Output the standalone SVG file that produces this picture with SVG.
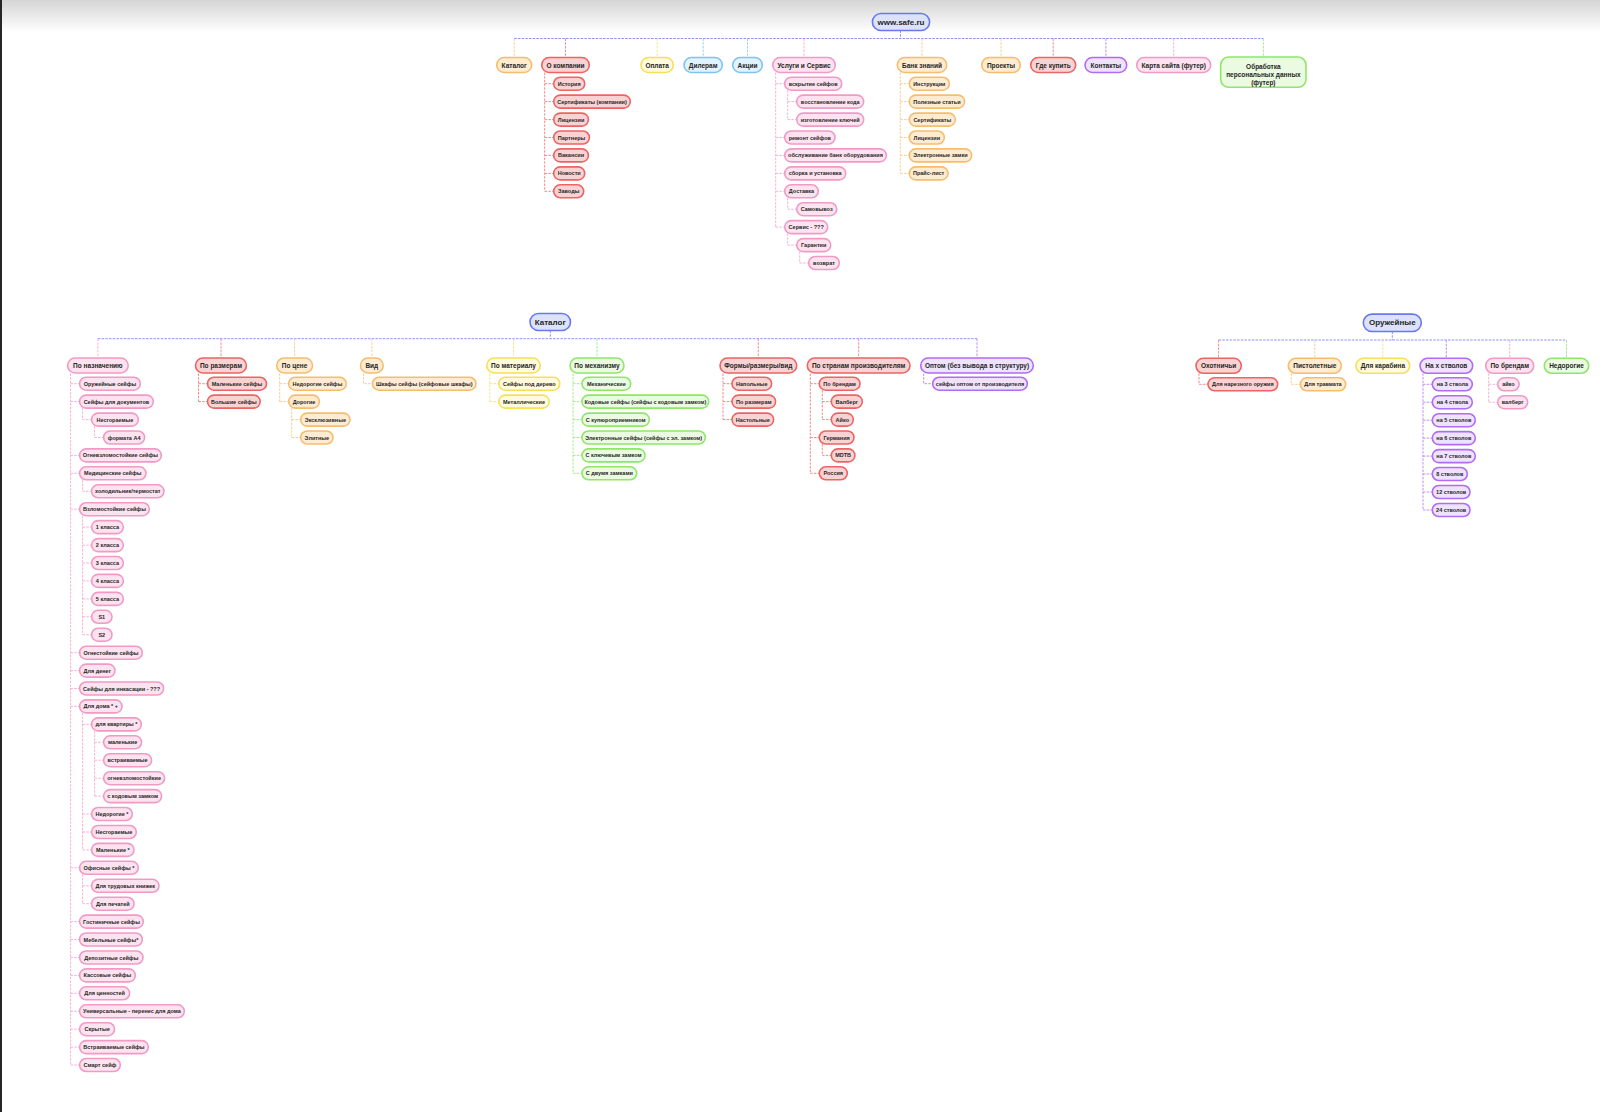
<svg xmlns="http://www.w3.org/2000/svg" width="1600" height="1112" viewBox="0 0 1600 1112">
<defs>
<linearGradient id="topg" x1="0" y1="0" x2="0" y2="1"><stop offset="0" stop-color="#d5d5d5"/><stop offset="1" stop-color="#ffffff"/></linearGradient>
<style>
.n text{font-family:"Liberation Sans",Arial,sans-serif;font-weight:700;fill:#262626;text-anchor:middle;dominant-baseline:central}
.n rect{stroke-width:1.6}
.s text{font-size:5.5px}
.m text{font-size:6.5px}
.l text{font-size:8px}
.blue rect{fill:#dde2fb;stroke:#6a78ee}
.red rect{fill:#f9d3d3;stroke:#ec6464}
.orange rect{fill:#fdebd2;stroke:#f6bd6f}
.yellow rect{fill:#fffbdc;stroke:#f5e05a}
.lblue rect{fill:#e3f2fd;stroke:#7dc4f4}
.pink rect{fill:#fce3ef;stroke:#f29ac6}
.purple rect{fill:#efe2fc;stroke:#b06cf2}
.green rect{fill:#ebfbe2;stroke:#8fe668}
.c path{fill:none;stroke-width:0.9;stroke-dasharray:2.5 1.2}
.c .blue{stroke:#7b88f0}
.c .red{stroke:#ee7f7f}
.c .orange{stroke:#f7c888}
.c .yellow{stroke:#f3e27a}
.c .lblue{stroke:#8ccbf5}
.c .pink{stroke:#f4a9cf}
.c .purple{stroke:#ba80f3}
.c .green{stroke:#9ee87c}
</style>
</defs>
<rect x="0" y="0" width="1600" height="1112" fill="#ffffff"/>
<rect x="0" y="0" width="1600" height="32" fill="url(#topg)"/>
<rect x="0" y="0" width="2" height="1112" fill="#262626"/>

<g id="connectors" class="c">
<path class="blue" d="M900.5,30.5V38.5M514.2,38.5H1263.4"/>
<path class="orange" d="M514.2,38.5V57.5M922,38.5V57.5M1001,38.5V57.5"/>
<path class="red" d="M565.5,38.5V57.5M1053.2,38.5V57.5"/>
<path class="yellow" d="M657.2,38.5V57.5"/>
<path class="lblue" d="M703.2,38.5V57.5M747.5,38.5V57.5"/>
<path class="pink" d="M804,38.5V57.5M1173.7,38.5V57.5"/>
<path class="purple" d="M1105.9,38.5V57.5"/>
<path class="green" d="M1263.4,38.5V57"/>
<path class="red" d="M544.7,72.5V191.3M544.7,83.7H553.7M544.7,101.6H553.7M544.7,119.6H553.7M544.7,137.5H553.7M544.7,155.4H553.7M544.7,173.4H553.7M544.7,191.3H553.7"/>
<path class="pink" d="M775.7,72.5V227.1M775.7,83.7H784.7M775.7,137.5H784.7M775.7,155.4H784.7M775.7,173.4H784.7M775.7,191.3H784.7M775.7,227.1H784.7M787.7,90.2V119.6M787.7,101.6H796.7M787.7,119.6H796.7M787.7,197.8V209.2H796.7M787.7,233.6V245.1H796.7M799.7,251.6V263H808.7"/>
<path class="orange" d="M900.3,72.5V173.4M900.3,83.7H909.3M900.3,101.6H909.3M900.3,119.6H909.3M900.3,137.5H909.3M900.3,155.4H909.3M900.3,173.4H909.3"/>

<path class="blue" d="M550.3,330.5V338.7M97.9,338.7H977"/>
<path class="pink" d="M97.9,338.7V358"/>
<path class="red" d="M221,338.7V358M758.3,338.7V358M858.7,338.7V358"/>
<path class="orange" d="M294.6,338.7V358M371.9,338.7V358"/>
<path class="yellow" d="M513.5,338.7V358"/>
<path class="green" d="M597,338.7V358"/>
<path class="purple" d="M977,338.7V358"/>
<path class="pink" d="M70.6,373.5V1065M70.6,383.7H79.6M70.6,401.6H79.6M70.6,455.4H79.6M70.6,473.3H79.6M70.6,509.2H79.6M70.6,652.7H79.6M70.6,670.6H79.6M70.6,688.5H79.6M70.6,706.4H79.6M70.6,867.8H79.6M70.6,921.6H79.6M70.6,939.5H79.6M70.6,957.5H79.6M70.6,975.4H79.6M70.6,993.3H79.6M70.6,1011.3H79.6M70.6,1029.2H79.6M70.6,1047.1H79.6M70.6,1065H79.6M82.6,408.1V419.6H91.6M94.6,426.1V437.5H103.6M82.6,479.8V491.3H91.6M82.6,515.7V634.7M82.6,527.1H91.6M82.6,545.1H91.6M82.6,563H91.6M82.6,580.9H91.6M82.6,598.9H91.6M82.6,616.8H91.6M82.6,634.7H91.6M82.6,712.9V849.9M82.6,724.4H91.6M82.6,814H91.6M82.6,832H91.6M82.6,849.9H91.6M94.6,730.9V796.1M94.6,742.3H103.6M94.6,760.2H103.6M94.6,778.2H103.6M94.6,796.1H103.6M82.6,874.3V903.7M82.6,885.8H91.6M82.6,903.7H91.6"/>
<path class="red" d="M198.5,373.5V401.6M198.5,383.7H207.5M198.5,401.6H207.5"/>
<path class="orange" d="M279.7,373.5V401.6M279.7,383.7H288.7M279.7,401.6H288.7M291.7,408.1V437.5M291.7,419.6H300.7M291.7,437.5H300.7M363.5,373.5V383.7H372.5"/>
<path class="yellow" d="M489.8,373.5V401.6M489.8,383.7H498.8M489.8,401.6H498.8"/>
<path class="green" d="M573,373.5V473.3M573,383.7H582M573,401.6H582M573,419.6H582M573,437.5H582M573,455.4H582M573,473.3H582"/>
<path class="red" d="M723,373.5V419.6M723,383.7H732M723,401.6H732M723,419.6H732M810.3,373.5V473.3M810.3,383.7H819.3M810.3,437.5H819.3M810.3,473.3H819.3M822.3,390.2V419.6M822.3,401.6H831.3M822.3,419.6H831.3M822.3,444V455.4H831.3"/>
<path class="purple" d="M923.7,373.5V383.7H932.7"/>

<path class="blue" d="M1392.3,331.5V340M1218.6,340H1566.5"/>
<path class="red" d="M1218.6,340V358.3M1199,373.3V384.3H1208"/>
<path class="orange" d="M1314.8,340V358.3M1291.3,373.3V384.3H1300.3"/>
<path class="yellow" d="M1382.8,340V358.3"/>
<path class="purple" d="M1446.3,340V358.3M1423,373.3V510M1423,384.3H1432.3M1423,402.2H1432.3M1423,420.2H1432.3M1423,438.1H1432.3M1423,456.1H1432.3M1423,474H1432.3M1423,492H1432.3M1423,510H1432.3"/>
<path class="pink" d="M1509.7,340V358.3M1488.7,373.3V402.2M1488.7,384.3H1497.7M1488.7,402.2H1497.7"/>
<path class="green" d="M1566.5,340V358.3"/>
</g>

<!-- site tree -->
<g id="n-root" class="n l blue" transform="translate(872.4,22)"><rect y="-8.5" width="57.2" height="17" rx="8.5"/><text x="28.6">www.safe.ru</text></g>
<g id="n-katalog" class="n m orange" transform="translate(496.7,65)"><rect y="-7.5" width="35" height="15" rx="7.5"/><text x="17.5">Каталог</text></g>
<g id="n-okompanii" class="n m red" transform="translate(541.7,65)"><rect y="-7.5" width="47.6" height="15" rx="7.5"/><text x="23.8">О компании</text></g>
<g id="n-oplata" class="n m yellow" transform="translate(641,65)"><rect y="-7.5" width="32.3" height="15" rx="7.5"/><text x="16.15">Оплата</text></g>
<g id="n-dileram" class="n m lblue" transform="translate(684,65)"><rect y="-7.5" width="38.3" height="15" rx="7.5"/><text x="19.15">Дилерам</text></g>
<g id="n-akcii" class="n m lblue" transform="translate(732.7,65)"><rect y="-7.5" width="29.6" height="15" rx="7.5"/><text x="14.8">Акции</text></g>
<g id="n-uslugi" class="n m pink" transform="translate(772.7,65)"><rect y="-7.5" width="62.6" height="15" rx="7.5"/><text x="31.3">Услуги и Сервис</text></g>
<g id="n-bank" class="n m orange" transform="translate(897.3,65)"><rect y="-7.5" width="49.4" height="15" rx="7.5"/><text x="24.7">Банк знаний</text></g>
<g id="n-proekty" class="n m orange" transform="translate(981.7,65)"><rect y="-7.5" width="38.6" height="15" rx="7.5"/><text x="19.3">Проекты</text></g>
<g id="n-gde" class="n m red" transform="translate(1030.7,65)"><rect y="-7.5" width="45" height="15" rx="7.5"/><text x="22.5">Где купить</text></g>
<g id="n-kontakty" class="n m purple" transform="translate(1085,65)"><rect y="-7.5" width="41.7" height="15" rx="7.5"/><text x="20.85">Контакты</text></g>
<g id="n-karta" class="n m pink" transform="translate(1136.7,65)"><rect y="-7.5" width="74" height="15" rx="7.5"/><text x="37">Карта сайта (футер)</text></g>
<g id="n-obrabotka" class="n m green" transform="translate(1220.7,72)"><rect y="-15" width="85.3" height="30.3" rx="8"/><text x="42.65"><tspan x="42.65" y="-6.3">Обработка</tspan><tspan x="42.65" y="2">персональных данных</tspan><tspan x="42.65" y="10.3">(футер)</tspan></text></g>

<g id="n-istoriya" class="n s red" transform="translate(553.7,83.7)"><rect y="-6.5" width="31" height="13" rx="6.5"/><text x="15.5">История</text></g>
<g id="n-sert-komp" class="n s red" transform="translate(553.7,101.6)"><rect y="-6.5" width="76.6" height="13" rx="6.5"/><text x="38.3">Сертификаты (компании)</text></g>
<g id="n-licenzii" class="n s red" transform="translate(553.7,119.6)"><rect y="-6.5" width="34.7" height="13" rx="6.5"/><text x="17.35">Лицензии</text></g>
<g id="n-partnery" class="n s red" transform="translate(553.7,137.5)"><rect y="-6.5" width="35.7" height="13" rx="6.5"/><text x="17.85">Партнеры</text></g>
<g id="n-vakansii" class="n s red" transform="translate(553.7,155.4)"><rect y="-6.5" width="34.7" height="13" rx="6.5"/><text x="17.35">Вакансии</text></g>
<g id="n-novosti" class="n s red" transform="translate(553.7,173.4)"><rect y="-6.5" width="31" height="13" rx="6.5"/><text x="15.5">Новости</text></g>
<g id="n-zavody" class="n s red" transform="translate(553.7,191.3)"><rect y="-6.5" width="30" height="13" rx="6.5"/><text x="15">Заводы</text></g>

<g id="n-vskrytie" class="n s pink" transform="translate(784.7,83.7)"><rect y="-6.5" width="57" height="13" rx="6.5"/><text x="28.5">вскрытие сейфов</text></g>
<g id="n-vosst" class="n s pink" transform="translate(796.7,101.6)"><rect y="-6.5" width="67" height="13" rx="6.5"/><text x="33.5">восстановление кода</text></g>
<g id="n-izgot" class="n s pink" transform="translate(796.7,119.6)"><rect y="-6.5" width="67" height="13" rx="6.5"/><text x="33.5">изготовление ключей</text></g>
<g id="n-remont" class="n s pink" transform="translate(784.7,137.5)"><rect y="-6.5" width="50.3" height="13" rx="6.5"/><text x="25.15">ремонт сейфов</text></g>
<g id="n-obsl" class="n s pink" transform="translate(784.7,155.4)"><rect y="-6.5" width="101.6" height="13" rx="6.5"/><text x="50.8">обслуживание банк оборудования</text></g>
<g id="n-sborka" class="n s pink" transform="translate(784.7,173.4)"><rect y="-6.5" width="61" height="13" rx="6.5"/><text x="30.5">сборка и установка</text></g>
<g id="n-dostavka" class="n s pink" transform="translate(784.7,191.3)"><rect y="-6.5" width="33.6" height="13" rx="6.5"/><text x="16.8">Доставка</text></g>
<g id="n-samovyvoz" class="n s pink" transform="translate(796.7,209.2)"><rect y="-6.5" width="40" height="13" rx="6.5"/><text x="20">Самовывоз</text></g>
<g id="n-servis" class="n s pink" transform="translate(784.7,227.1)"><rect y="-6.5" width="43" height="13" rx="6.5"/><text x="21.5">Сервис - ???</text></g>
<g id="n-garantii" class="n s pink" transform="translate(796.7,245.1)"><rect y="-6.5" width="34" height="13" rx="6.5"/><text x="17">Гарантии</text></g>
<g id="n-vozvrat" class="n s pink" transform="translate(808.7,263)"><rect y="-6.5" width="30.6" height="13" rx="6.5"/><text x="15.3">возврат</text></g>

<g id="n-instr" class="n s orange" transform="translate(909.3,83.7)"><rect y="-6.5" width="40" height="13" rx="6.5"/><text x="20">Инструкции</text></g>
<g id="n-polez" class="n s orange" transform="translate(909.3,101.6)"><rect y="-6.5" width="55.3" height="13" rx="6.5"/><text x="27.65">Полезные статьи</text></g>
<g id="n-sert" class="n s orange" transform="translate(909.3,119.6)"><rect y="-6.5" width="46" height="13" rx="6.5"/><text x="23">Сертификаты</text></g>
<g id="n-lic2" class="n s orange" transform="translate(909.3,137.5)"><rect y="-6.5" width="35" height="13" rx="6.5"/><text x="17.5">Лицензии</text></g>
<g id="n-elzamki" class="n s orange" transform="translate(909.3,155.4)"><rect y="-6.5" width="62.3" height="13" rx="6.5"/><text x="31.15">Электронные замки</text></g>
<g id="n-prais" class="n s orange" transform="translate(909.3,173.4)"><rect y="-6.5" width="38.7" height="13" rx="6.5"/><text x="19.35">Прайс-лист</text></g>

<!-- catalog tree -->
<g id="n-cat-root" class="n l blue" transform="translate(530,322)"><rect y="-8.5" width="40.5" height="17" rx="8.5"/><text x="20.25">Каталог</text></g>
<g id="n-naznach" class="n m pink" transform="translate(67.6,365.5)"><rect y="-7.5" width="60.6" height="15" rx="7.5"/><text x="30.3">По назначению</text></g>
<g id="n-razmer" class="n m red" transform="translate(195.5,365.5)"><rect y="-7.5" width="50.9" height="15" rx="7.5"/><text x="25.45">По размерам</text></g>
<g id="n-cena" class="n m orange" transform="translate(276.7,365.5)"><rect y="-7.5" width="35.8" height="15" rx="7.5"/><text x="17.9">По цене</text></g>
<g id="n-vid" class="n m orange" transform="translate(360.5,365.5)"><rect y="-7.5" width="22.7" height="15" rx="7.5"/><text x="11.35">Вид</text></g>
<g id="n-material" class="n m yellow" transform="translate(486.8,365.5)"><rect y="-7.5" width="53.4" height="15" rx="7.5"/><text x="26.7">По материалу</text></g>
<g id="n-mehanizm" class="n m green" transform="translate(570,365.5)"><rect y="-7.5" width="54" height="15" rx="7.5"/><text x="27">По механизму</text></g>
<g id="n-formy" class="n m red" transform="translate(720,365.5)"><rect y="-7.5" width="76.7" height="15" rx="7.5"/><text x="38.35">Формы/размеры/вид</text></g>
<g id="n-strany" class="n m red" transform="translate(807.3,365.5)"><rect y="-7.5" width="102.7" height="15" rx="7.5"/><text x="51.35">По странам производителям</text></g>
<g id="n-optom" class="n m purple" transform="translate(920.7,365.5)"><rect y="-7.5" width="112.6" height="15" rx="7.5"/><text x="56.3">Оптом (без вывода в структуру)</text></g>

<g id="n-c1" class="n s pink" transform="translate(79.6,383.7)"><rect y="-6.5" width="60.7" height="13" rx="6.5"/><text x="30.35">Оружейные сейфы</text></g>
<g id="n-c2" class="n s pink" transform="translate(79.6,401.6)"><rect y="-6.5" width="73.7" height="13" rx="6.5"/><text x="36.85">Сейфы для документов</text></g>
<g id="n-c3" class="n s pink" transform="translate(91.6,419.6)"><rect y="-6.5" width="46.7" height="13" rx="6.5"/><text x="23.35">Несгораемые</text></g>
<g id="n-c4" class="n s pink" transform="translate(103.6,437.5)"><rect y="-6.5" width="41" height="13" rx="6.5"/><text x="20.5">формата А4</text></g>
<g id="n-c5" class="n s pink" transform="translate(79.6,455.4)"><rect y="-6.5" width="81.7" height="13" rx="6.5"/><text x="40.85">Огневзломостойкие сейфы</text></g>
<g id="n-c6" class="n s pink" transform="translate(79.6,473.3)"><rect y="-6.5" width="66.4" height="13" rx="6.5"/><text x="33.2">Медицинские сейфы</text></g>
<g id="n-c7" class="n s pink" transform="translate(91.6,491.3)"><rect y="-6.5" width="72.4" height="13" rx="6.5"/><text x="36.2">холодильник/термостат</text></g>
<g id="n-c8" class="n s pink" transform="translate(79.6,509.2)"><rect y="-6.5" width="69.7" height="13" rx="6.5"/><text x="34.85">Взломостойкие сейфы</text></g>
<g id="n-c9" class="n s pink" transform="translate(91.6,527.1)"><rect y="-6.5" width="31.7" height="13" rx="6.5"/><text x="15.85">1 класса</text></g>
<g id="n-c10" class="n s pink" transform="translate(91.6,545.1)"><rect y="-6.5" width="31.7" height="13" rx="6.5"/><text x="15.85">2 класса</text></g>
<g id="n-c11" class="n s pink" transform="translate(91.6,563)"><rect y="-6.5" width="31.7" height="13" rx="6.5"/><text x="15.85">3 класса</text></g>
<g id="n-c12" class="n s pink" transform="translate(91.6,580.9)"><rect y="-6.5" width="31.7" height="13" rx="6.5"/><text x="15.85">4 класса</text></g>
<g id="n-c13" class="n s pink" transform="translate(91.6,598.9)"><rect y="-6.5" width="31.7" height="13" rx="6.5"/><text x="15.85">5 класса</text></g>
<g id="n-c14" class="n s pink" transform="translate(91.6,616.8)"><rect y="-6.5" width="20.4" height="13" rx="6.5"/><text x="10.2">S1</text></g>
<g id="n-c15" class="n s pink" transform="translate(91.6,634.7)"><rect y="-6.5" width="20.4" height="13" rx="6.5"/><text x="10.2">S2</text></g>
<g id="n-c16" class="n s pink" transform="translate(79.6,652.7)"><rect y="-6.5" width="62.7" height="13" rx="6.5"/><text x="31.35">Огнестойкие сейфы</text></g>
<g id="n-c17" class="n s pink" transform="translate(79.6,670.6)"><rect y="-6.5" width="35.4" height="13" rx="6.5"/><text x="17.7">Для денег</text></g>
<g id="n-c18" class="n s pink" transform="translate(79.6,688.5)"><rect y="-6.5" width="84" height="13" rx="6.5"/><text x="42">Сейфы для инкасации - ???</text></g>
<g id="n-c19" class="n s pink" transform="translate(79.6,706.4)"><rect y="-6.5" width="42.4" height="13" rx="6.5"/><text x="21.2">Для дома * +</text></g>
<g id="n-c20" class="n s pink" transform="translate(91.6,724.4)"><rect y="-6.5" width="49.7" height="13" rx="6.5"/><text x="24.85">для квартиры *</text></g>
<g id="n-c21" class="n s pink" transform="translate(103.6,742.3)"><rect y="-6.5" width="38" height="13" rx="6.5"/><text x="19">маленькие</text></g>
<g id="n-c22" class="n s pink" transform="translate(103.6,760.2)"><rect y="-6.5" width="48" height="13" rx="6.5"/><text x="24">встраиваемые</text></g>
<g id="n-c23" class="n s pink" transform="translate(103.6,778.2)"><rect y="-6.5" width="61" height="13" rx="6.5"/><text x="30.5">огневзломостойкие</text></g>
<g id="n-c24" class="n s pink" transform="translate(103.6,796.1)"><rect y="-6.5" width="58" height="13" rx="6.5"/><text x="29">с кодовым замком</text></g>
<g id="n-c25" class="n s pink" transform="translate(91.6,814)"><rect y="-6.5" width="40.7" height="13" rx="6.5"/><text x="20.35">Недорогие *</text></g>
<g id="n-c26" class="n s pink" transform="translate(91.6,832)"><rect y="-6.5" width="44.7" height="13" rx="6.5"/><text x="22.35">Несгораемые</text></g>
<g id="n-c27" class="n s pink" transform="translate(91.6,849.9)"><rect y="-6.5" width="42.4" height="13" rx="6.5"/><text x="21.2">Маленькие *</text></g>
<g id="n-c28" class="n s pink" transform="translate(79.6,867.8)"><rect y="-6.5" width="58.7" height="13" rx="6.5"/><text x="29.35">Офисные сейфы *</text></g>
<g id="n-c29" class="n s pink" transform="translate(91.6,885.8)"><rect y="-6.5" width="67.4" height="13" rx="6.5"/><text x="33.7">Для трудовых книжек</text></g>
<g id="n-c30" class="n s pink" transform="translate(91.6,903.7)"><rect y="-6.5" width="42.4" height="13" rx="6.5"/><text x="21.2">Для печатей</text></g>
<g id="n-c31" class="n s pink" transform="translate(79.6,921.6)"><rect y="-6.5" width="63.7" height="13" rx="6.5"/><text x="31.85">Гостиничные сейфы</text></g>
<g id="n-c32" class="n s pink" transform="translate(79.6,939.5)"><rect y="-6.5" width="62.7" height="13" rx="6.5"/><text x="31.35">Мебельные сейфы*</text></g>
<g id="n-c33" class="n s pink" transform="translate(79.6,957.5)"><rect y="-6.5" width="63.4" height="13" rx="6.5"/><text x="31.7">Депозитные сейфы</text></g>
<g id="n-c34" class="n s pink" transform="translate(79.6,975.4)"><rect y="-6.5" width="55.7" height="13" rx="6.5"/><text x="27.85">Кассовые сейфы</text></g>
<g id="n-c35" class="n s pink" transform="translate(79.6,993.3)"><rect y="-6.5" width="50" height="13" rx="6.5"/><text x="25">Для ценностей</text></g>
<g id="n-c36" class="n s pink" transform="translate(79.6,1011.3)"><rect y="-6.5" width="104.7" height="13" rx="6.5"/><text x="52.35">Универсальные - перенес для дома</text></g>
<g id="n-c37" class="n s pink" transform="translate(79.6,1029.2)"><rect y="-6.5" width="35" height="13" rx="6.5"/><text x="17.5">Скрытые</text></g>
<g id="n-c38" class="n s pink" transform="translate(79.6,1047.1)"><rect y="-6.5" width="68.7" height="13" rx="6.5"/><text x="34.35">Встраиваемые сейфы</text></g>
<g id="n-c39" class="n s pink" transform="translate(79.6,1065)"><rect y="-6.5" width="40.7" height="13" rx="6.5"/><text x="20.35">Смарт сейф</text></g>

<g id="n-r1" class="n s red" transform="translate(207.5,383.7)"><rect y="-6.5" width="59" height="13" rx="6.5"/><text x="29.5">Маленькие сейфы</text></g>
<g id="n-r2" class="n s red" transform="translate(207.5,401.6)"><rect y="-6.5" width="52.7" height="13" rx="6.5"/><text x="26.35">Большие сейфы</text></g>
<g id="n-p1" class="n s orange" transform="translate(288.7,383.7)"><rect y="-6.5" width="57.5" height="13" rx="6.5"/><text x="28.75">Недорогие сейфы</text></g>
<g id="n-p2" class="n s orange" transform="translate(288.7,401.6)"><rect y="-6.5" width="30.7" height="13" rx="6.5"/><text x="15.35">Дорогие</text></g>
<g id="n-p3" class="n s orange" transform="translate(300.7,419.6)"><rect y="-6.5" width="49.3" height="13" rx="6.5"/><text x="24.65">Эксклюзивные</text></g>
<g id="n-p4" class="n s orange" transform="translate(300.7,437.5)"><rect y="-6.5" width="32.3" height="13" rx="6.5"/><text x="16.15">Элитные</text></g>
<g id="n-v1" class="n s orange" transform="translate(372.5,383.7)"><rect y="-6.5" width="103.5" height="13" rx="6.5"/><text x="51.75">Шкафы сейфы (сейфовые шкафы)</text></g>
<g id="n-m1" class="n s yellow" transform="translate(498.8,383.7)"><rect y="-6.5" width="61" height="13" rx="6.5"/><text x="30.5">Сейфы под дерево</text></g>
<g id="n-m2" class="n s yellow" transform="translate(498.8,401.6)"><rect y="-6.5" width="50.4" height="13" rx="6.5"/><text x="25.2">Металлические</text></g>
<g id="n-k1" class="n s green" transform="translate(582,383.7)"><rect y="-6.5" width="48.7" height="13" rx="6.5"/><text x="24.35">Механические</text></g>
<g id="n-k2" class="n s green" transform="translate(582,401.6)"><rect y="-6.5" width="126.7" height="13" rx="6.5"/><text x="63.35">Кодовые сейфы (сейфы с кодовым замком)</text></g>
<g id="n-k3" class="n s green" transform="translate(582,419.6)"><rect y="-6.5" width="67.3" height="13" rx="6.5"/><text x="33.65">С купюроприемником</text></g>
<g id="n-k4" class="n s green" transform="translate(582,437.5)"><rect y="-6.5" width="123.3" height="13" rx="6.5"/><text x="61.65">Электронные сейфы (сейфы с эл. замком)</text></g>
<g id="n-k5" class="n s green" transform="translate(582,455.4)"><rect y="-6.5" width="63" height="13" rx="6.5"/><text x="31.5">С ключевым замком</text></g>
<g id="n-k6" class="n s green" transform="translate(582,473.3)"><rect y="-6.5" width="54.7" height="13" rx="6.5"/><text x="27.35">С двумя замками</text></g>
<g id="n-f1" class="n s red" transform="translate(732,383.7)"><rect y="-6.5" width="39.6" height="13" rx="6.5"/><text x="19.8">Напольные</text></g>
<g id="n-f2" class="n s red" transform="translate(732,401.6)"><rect y="-6.5" width="43.6" height="13" rx="6.5"/><text x="21.8">По размерам</text></g>
<g id="n-f3" class="n s red" transform="translate(732,419.6)"><rect y="-6.5" width="41.6" height="13" rx="6.5"/><text x="20.8">Настольные</text></g>
<g id="n-s1" class="n s red" transform="translate(819.3,383.7)"><rect y="-6.5" width="40.7" height="13" rx="6.5"/><text x="20.35">По брендам</text></g>
<g id="n-s2" class="n s red" transform="translate(831.3,401.6)"><rect y="-6.5" width="31" height="13" rx="6.5"/><text x="15.5">Валберг</text></g>
<g id="n-s3" class="n s red" transform="translate(831.3,419.6)"><rect y="-6.5" width="22" height="13" rx="6.5"/><text x="11">Айко</text></g>
<g id="n-s4" class="n s red" transform="translate(819.3,437.5)"><rect y="-6.5" width="34.7" height="13" rx="6.5"/><text x="17.35">Германия</text></g>
<g id="n-s5" class="n s red" transform="translate(831.3,455.4)"><rect y="-6.5" width="23.6" height="13" rx="6.5"/><text x="11.8">MDTB</text></g>
<g id="n-s6" class="n s red" transform="translate(819.3,473.3)"><rect y="-6.5" width="28" height="13" rx="6.5"/><text x="14">Россия</text></g>
<g id="n-o1" class="n s purple" transform="translate(932.7,383.7)"><rect y="-6.5" width="94.6" height="13" rx="6.5"/><text x="47.3">сейфы оптом от производителя</text></g>

<!-- weapons tree -->
<g id="n-weap-root" class="n l blue" transform="translate(1363.3,322.8)"><rect y="-8.7" width="58" height="17.4" rx="8.7"/><text x="29">Оружейные</text></g>
<g id="n-ohot" class="n m red" transform="translate(1196,365.8)"><rect y="-7.5" width="45.3" height="15" rx="7.5"/><text x="22.65">Охотничьи</text></g>
<g id="n-pist" class="n m orange" transform="translate(1288.3,365.8)"><rect y="-7.5" width="53" height="15" rx="7.5"/><text x="26.5">Пистолетные</text></g>
<g id="n-karab" class="n m yellow" transform="translate(1356,365.8)"><rect y="-7.5" width="53.7" height="15" rx="7.5"/><text x="26.85">Для карабина</text></g>
<g id="n-stvoly" class="n m purple" transform="translate(1420,365.8)"><rect y="-7.5" width="52.7" height="15" rx="7.5"/><text x="26.35">На х стволов</text></g>
<g id="n-brand" class="n m pink" transform="translate(1485.7,365.8)"><rect y="-7.5" width="48" height="15" rx="7.5"/><text x="24">По брендам</text></g>
<g id="n-nedor" class="n m green" transform="translate(1544.3,365.8)"><rect y="-7.5" width="44.4" height="15" rx="7.5"/><text x="22.2">Недорогие</text></g>
<g id="n-w1" class="n s red" transform="translate(1208,384.3)"><rect y="-6.5" width="69.7" height="13" rx="6.5"/><text x="34.85">Для нарезного оружия</text></g>
<g id="n-w2" class="n s orange" transform="translate(1300.3,384.3)"><rect y="-6.5" width="45.4" height="13" rx="6.5"/><text x="22.7">Для травмата</text></g>
<g id="n-w3" class="n s purple" transform="translate(1432.3,384.3)"><rect y="-6.5" width="40" height="13" rx="6.5"/><text x="20">на 3 ствола</text></g>
<g id="n-w4" class="n s purple" transform="translate(1432.3,402.2)"><rect y="-6.5" width="40" height="13" rx="6.5"/><text x="20">на 4 ствола</text></g>
<g id="n-w5" class="n s purple" transform="translate(1432.3,420.2)"><rect y="-6.5" width="43" height="13" rx="6.5"/><text x="21.5">на 5 стволов</text></g>
<g id="n-w6" class="n s purple" transform="translate(1432.3,438.1)"><rect y="-6.5" width="43" height="13" rx="6.5"/><text x="21.5">на 6 стволов</text></g>
<g id="n-w7" class="n s purple" transform="translate(1432.3,456.1)"><rect y="-6.5" width="43" height="13" rx="6.5"/><text x="21.5">на 7 стволов</text></g>
<g id="n-w8" class="n s purple" transform="translate(1432.3,474)"><rect y="-6.5" width="35" height="13" rx="6.5"/><text x="17.5">8 стволов</text></g>
<g id="n-w9" class="n s purple" transform="translate(1432.3,492)"><rect y="-6.5" width="37.7" height="13" rx="6.5"/><text x="18.85">12 стволов</text></g>
<g id="n-w10" class="n s purple" transform="translate(1432.3,510)"><rect y="-6.5" width="37.7" height="13" rx="6.5"/><text x="18.85">24 стволов</text></g>
<g id="n-w11" class="n s pink" transform="translate(1497.7,384.3)"><rect y="-6.5" width="21.4" height="13" rx="6.5"/><text x="10.7">айко</text></g>
<g id="n-w12" class="n s pink" transform="translate(1497.7,402.2)"><rect y="-6.5" width="30" height="13" rx="6.5"/><text x="15">валберг</text></g>
</svg>
